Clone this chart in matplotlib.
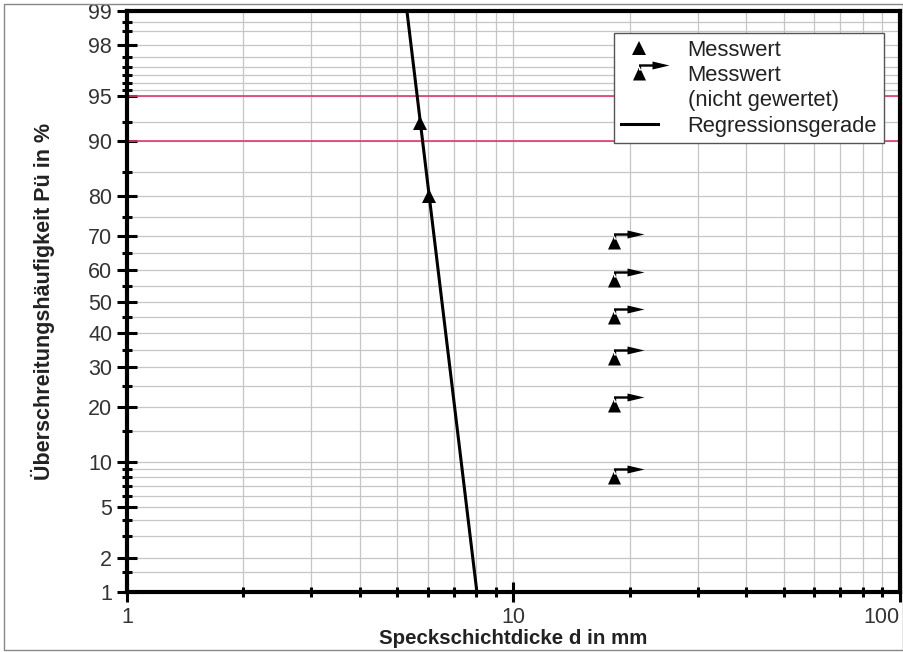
# Wahrscheinlichkeitsnetz: Speckschichtdicke vs. Ueberschreitungshaeufigkeit
import numpy as np
import matplotlib
matplotlib.use('Agg')
import matplotlib.pyplot as plt
from matplotlib.path import Path
from matplotlib.lines import Line2D
from matplotlib.patches import Rectangle
from matplotlib.ticker import LogLocator, NullFormatter
from statistics import NormalDist

plt.rcParams['font.family'] = ['Liberation Sans', 'DejaVu Sans']

# Daten
reg_x = [5.30, 8.04]          # Regressionsgerade, d in mm
reg_p = [99, 1]               # Pü in %
mess_x = [5.72, 6.03]         # Messwert
mess_p = [92.3, 80.2]
ng_x = [18.2, 18.2, 18.2, 18.2, 18.2, 18.2]   # Messwert (nicht gewertet)
ng_p = [68.4, 56.8, 45.2, 32.5, 20.4, 8.0]
grenz_p = [90, 95]            # rote Linien

y_major = [1, 2, 5, 10, 20, 30, 40, 50, 60, 70, 80, 90, 95, 98, 99]
y_minor = [1.5, 3, 4, 6, 7, 8, 9, 15, 25, 35, 45, 55, 65, 75, 85, 92.5,
           95.5, 96, 96.5, 97, 97.5, 98.5, 98.75]
x_major = [1, 10, 100]

# Wahrscheinlichkeitsskala (Normalverteilung)
nd = NormalDist()
_ppf = np.vectorize(nd.inv_cdf, otypes=[float])
_cdf = np.vectorize(nd.cdf, otypes=[float])


def probit(p):
    p = np.asarray(p, dtype=float) / 100.0
    ok = np.isfinite(p)
    q = np.clip(np.where(ok, p, 0.5), 1e-9, 1 - 1e-9)
    return np.where(ok, _ppf(q), np.nan)


def inv_probit(z):
    z = np.asarray(z, dtype=float)
    ok = np.isfinite(z)
    return np.where(ok, _cdf(np.where(ok, z, 0.0)) * 100.0, np.nan)


# Marker: Dreieck mit abgeknicktem Pfeil (Einheiten ~ Pixel)
verts = [(-6.5, -7), (6.5, -7), (0, 7), (-6.5, -7),
         (-0.5, 3), (-0.5, 9.2), (13, 9.2), (13, 12), (30, 8),
         (13, 4), (13, 6.8), (1.7, 6.8), (1.7, 3), (-0.5, 3)]
codes = ([Path.MOVETO, Path.LINETO, Path.LINETO, Path.CLOSEPOLY] +
         [Path.MOVETO] + [Path.LINETO] * 8 + [Path.CLOSEPOLY])
pfeil = Path(verts, codes)
pfeil_ms = 2 * 30 * 0.72

fig = plt.figure(figsize=(9.04, 6.52), dpi=100)
ax = fig.add_axes([127 / 904, 1 - 592 / 652, (900 - 127) / 904, (592 - 11) / 652])

ax.set_xscale('log')
ax.set_yscale('function', functions=(probit, inv_probit))
ax.set_xlim(1, 100)
ax.set_ylim(1, 99)

ax.set_xticks(x_major, labels=[str(v) for v in x_major])
ax.xaxis.set_minor_locator(LogLocator(base=10, subs=range(2, 10)))
ax.xaxis.set_minor_formatter(NullFormatter())
ax.set_yticks(y_major, labels=[str(v) for v in y_major])
ax.set_yticks(y_minor, minor=True)

ax.grid(True, which='both', color='#c6c6c6', lw=0.9, zorder=0)
ax.set_axisbelow(True)

for p in grenz_p:
    ax.axhline(p, color='#dc3c6e', lw=1.2, zorder=1)

ax.plot(reg_x, reg_p, color='black', lw=2.2, zorder=3)
ax.plot(mess_x, mess_p, ls='none', marker='^', ms=10, color='black', mew=0, zorder=4)
ax.plot(ng_x, ng_p, ls='none', marker=pfeil, ms=pfeil_ms, color='black', mew=0, zorder=4)

for s in ax.spines.values():
    s.set_linewidth(3)
ax.tick_params(which='major', direction='inout', length=14.4, width=2.2,
               labelsize=15.5, labelcolor='#333333', pad=3.5)
ax.tick_params(which='minor', direction='inout', length=6.5, width=2.2)
ax.get_xticklabels()[-1].set_horizontalalignment('right')

ax.set_xlabel('Speckschichtdicke d in mm', fontsize=14.8, fontweight='bold',
              color='#222222', labelpad=0.5)
ax.set_ylabel('Überschreitungshäufigkeit Pü in %', fontsize=15.5, fontweight='bold',
              color='#222222', labelpad=24)

handles = [
    Line2D([], [], ls='none', marker='^', ms=10, color='black', mew=0),
    Line2D([], [], ls='none', marker=pfeil, ms=pfeil_ms, color='black', mew=0),
    Line2D([], [], ls='none'),
    Line2D([], [], color='black', lw=2.2),
]
labels = ['Messwert', 'Messwert', '(nicht gewertet)', 'Regressionsgerade']
leg = ax.legend(handles, labels, loc='upper right', bbox_to_anchor=(0.979, 0.962),
                borderaxespad=0, fontsize=15.8, labelspacing=0.2, handlelength=1.7,
                handletextpad=1.35, borderpad=0.3, fancybox=False, framealpha=1,
                edgecolor='#555555')
leg.get_frame().set_linewidth(1)
for t in leg.get_texts():
    t.set_color('#222222')

# dünner Rahmen um das Bild
fig.patches.append(Rectangle((4 / 904, 2 / 652), 899 / 904, 646 / 652,
                             transform=fig.transFigure, fill=False,
                             ec='#888888', lw=1))

fig.savefig('out.png', dpi=100)
